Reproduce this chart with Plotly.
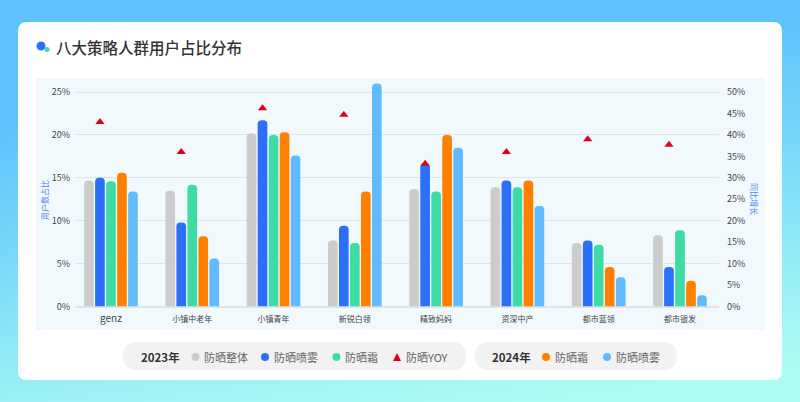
import plotly.graph_objects as go

categories = ["genz", "小镇中老年", "小镇青年", "新锐白领", "精致妈妈", "资深中产", "都市蓝领", "都市银发"]
overall_2023 = [14.7, 13.5, 20.2, 7.7, 13.7, 13.9, 7.4, 8.3]
spray_2023 = [15.0, 9.8, 21.7, 9.4, 16.7, 14.7, 7.7, 4.6]
cream_2023 = [14.6, 14.2, 20.0, 7.4, 13.4, 13.9, 7.2, 8.9]
cream_2024 = [15.6, 8.2, 20.3, 13.4, 20.0, 14.7, 4.6, 3.0]
spray_2024 = [13.4, 5.6, 17.6, 26.0, 18.5, 11.7, 3.4, 1.3]
yoy_2023 = [43.0, 36.0, 46.2, 44.7, 33.3, 36.0, 39.0, 37.7]
left_ticks = [0, 5, 10, 15, 20, 25]
right_ticks = [0, 5, 10, 15, 20, 25, 30, 35, 40, 45, 50]

GRAY = "#CCCCCC"
BLUE = "#2B6FFB"
GREEN = "#3EDBA5"
ORANGE = "#FF8000"
SKY = "#62BBFF"
RED = "#E0001B"
FONT = "Noto Sans CJK SC"
W, H = 800, 402


def px(x):
    return x / W


def py(y):
    return (H - y) / H


def round_rect(x0, y0, x1, y1, r, color):
    path = (
        f"M {px(x0 + r)} {py(y0)} L {px(x1 - r)} {py(y0)} Q {px(x1)} {py(y0)} {px(x1)} {py(y0 + r)} "
        f"L {px(x1)} {py(y1 - r)} Q {px(x1)} {py(y1)} {px(x1 - r)} {py(y1)} "
        f"L {px(x0 + r)} {py(y1)} Q {px(x0)} {py(y1)} {px(x0)} {py(y1 - r)} "
        f"L {px(x0)} {py(y0 + r)} Q {px(x0)} {py(y0)} {px(x0 + r)} {py(y0)} Z"
    )
    return dict(type="path", path=path, xref="paper", yref="paper", fillcolor=color,
                line_width=0, layer="below")


def dot(x, y, r, color):
    return dict(type="circle", xref="paper", yref="paper", x0=px(x - r), x1=px(x + r),
                y0=py(y + r), y1=py(y - r), fillcolor=color, line_width=0, layer="above")


def label(x, y, text, size=11, color="#666666", weight=400, anchor="left", angle=0):
    return dict(x=px(x), y=py(y), xref="paper", yref="paper", text=text, showarrow=False,
                xanchor=anchor, yanchor="middle", textangle=angle,
                font=dict(family=FONT, size=size, color=color, weight=weight))


positions = list(range(len(categories)))
fig = go.Figure()
for name, values, color in [
    ("防晒整体", overall_2023, GRAY),
    ("防晒喷雾", spray_2023, BLUE),
    ("防晒霜", cream_2023, GREEN),
    ("防晒霜 2024", cream_2024, ORANGE),
    ("防晒喷雾 2024", spray_2024, SKY),
]:
    fig.add_trace(go.Bar(x=positions, y=values, name=name, marker_color=color,
                         marker_line_width=0, marker_cornerradius=5))

# the triangles sit over the second bar of each group
slot = (1 - 0.323) / 5
fig.add_trace(go.Scatter(x=[p - slot for p in positions], y=yoy_2023, name="防晒YOY", mode="markers",
                         yaxis="y2", marker=dict(symbol="triangle-up", size=8, color=RED)))

ticktext = [f'<span style="font-size:10px">{c}</span>' if c == "genz" else c for c in categories]

shapes = [
    round_rect(18, 22, 782, 380, 9, "#FFFFFF"),
    round_rect(36, 78, 765, 330, 1, "#F1F9FD"),
    round_rect(123, 342, 466, 370, 14, "#F2F2F2"),
    round_rect(475, 342, 677, 370, 14, "#F2F2F2"),
    dot(47, 49.5, 2.5, GREEN),
    dot(41, 46, 4.5, BLUE),
    dot(195.5, 357, 4, GRAY),
    dot(265, 357, 4, BLUE),
    dot(336.5, 357, 4, GREEN),
    dot(546, 357, 4, ORANGE),
    dot(607, 357, 4, SKY),
    dict(type="path", xref="paper", yref="paper", fillcolor=RED, line_width=0,
         path=f"M {px(397)} {py(353)} L {px(401)} {py(361)} L {px(393)} {py(361)} Z"),
]

annotations = [
    label(53.5, 47, "八大策略人群用户占比分布", size=15.5, color="#333333", weight=500),
    label(45, 200, "用户数占比", size=8, color="#4F86F7", anchor="center", angle=-90),
    label(755, 199, "同比增长", size=8, color="#4F86F7", anchor="center", angle=90),
    label(139, 357, "2023年", size=11.5, color="#333333", weight=700),
    label(202, 357, "防晒整体"),
    label(272, 357, "防晒喷雾"),
    label(343, 357, "防晒霜"),
    label(404, 357, "防晒YOY"),
    label(490, 357, "2024年", size=11.5, color="#333333", weight=700),
    label(553, 357, "防晒霜"),
    label(614, 357, "防晒喷雾"),
]

fig.update_layout(
    width=W,
    height=H,
    margin=dict(l=0, r=0, t=0, b=0, autoexpand=False),
    paper_bgcolor="rgba(0,0,0,0)",
    plot_bgcolor="rgba(0,0,0,0)",
    showlegend=False,
    barmode="group",
    bargap=0.323,
    bargroupgap=0.12,
    font=dict(family=FONT, size=9, color="#444444"),
    xaxis=dict(domain=[px(76), px(719)], range=[-0.43, 7.48], tickvals=positions, ticktext=ticktext,
               showgrid=False, zeroline=False, showline=False, ticks="", tickfont_size=8, ticklabelstandoff=6),
    yaxis=dict(domain=[py(306.5), py(80)], range=[0, 26.4], tickvals=left_ticks,
               ticktext=[f"{t}%" for t in left_ticks],
               gridcolor="#DCE5E9", gridwidth=1, zeroline=True, zerolinecolor="#DCE5E9", zerolinewidth=1.5,
               ticks="", ticklabelstandoff=5),
    yaxis2=dict(domain=[py(306.5), py(80)], range=[0, 52.8], tickvals=right_ticks,
                ticktext=[f"{t}%" for t in right_ticks],
                overlaying="y", side="right", anchor="x", showgrid=False, zeroline=False,
                ticks="", ticklabelstandoff=7),
    shapes=shapes,
    annotations=annotations,
)

page_style = (
    "document.documentElement.style.height='100%';"
    "document.body.style.margin='0';"
    "document.body.style.overflow='hidden';"
    "document.body.style.height='402px';"
    "document.body.style.background='linear-gradient(172deg,#5cc3fd 25%,#abfdf3 92%)';"
)
fig.write_html("out.html", post_script=page_style, config={"displayModeBar": False})
